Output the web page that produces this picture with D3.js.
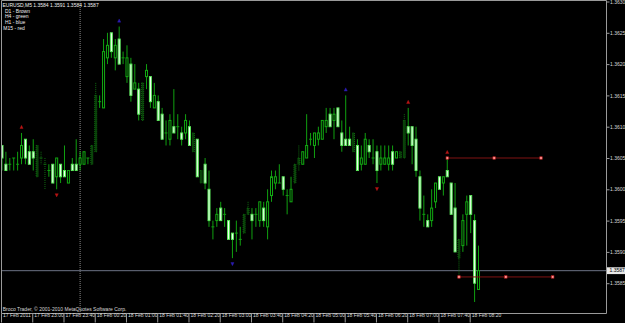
<!DOCTYPE html>
<html>
<head>
<meta charset="utf-8">
<script src="https://cdn.jsdelivr.net/npm/d3@7"></script>
<style>
html, body { margin: 0; padding: 0; background: #000; overflow: hidden; }
svg { display: block; }
</style>
</head>
<body>
<div id="chart"></div>
<script>
var symbol = "EURUSD,M5";
var startTime = "2011-02-17 22:20";

// M5 bars
var opens = [1.3607,1.3604,1.3604,1.3605,1.3604,1.3605,1.3608,1.3606,1.3606,1.3607,
	1.3605,1.3604,1.3603,1.3604,1.3602,1.3604,1.3603,1.3601,1.3604,1.3604,
	1.3604,1.3604,1.3605,1.3604,1.3606,1.3614,1.3613,1.3621,1.3625,1.3621,
	1.3624,1.3621,1.3618,1.3620,1.3616,1.3616,1.3617,1.3618,1.3618,1.3613,
	1.3614,1.3612,1.3609,1.3608,1.3610,1.3610,1.3609,1.3609,1.3610,1.3609,
	1.3608,1.3603,1.3604,1.3600,1.3594,1.3595,1.3597,1.3596,1.3595,1.3593,
	1.3593,1.3592,1.3593,1.3596,1.3596,1.3596,1.3595,1.3597,1.3594,1.3599,
	1.3601,1.3601,1.3602,1.3599,1.3598,1.3601,1.3604,1.3604,1.3605,1.3608,
	1.3607,1.3608,1.3608,1.3610,1.3612,1.3611,1.3613,1.3609,1.3608,1.3608,
	1.3609,1.3607,1.3604,1.3604,1.3607,1.3605,1.3606,1.3604,1.3604,1.3604,
	1.3606,1.3605,1.3605,1.3605,1.3610,1.3610,1.3608,1.3602,1.3596,1.3595,
	1.3595,1.3598,1.3602,1.3601,1.3603,1.3601,1.3597,1.3592,1.3591,1.3596,
	1.3599,1.3595,1.3584];
var highs = [1.3607,1.3606,1.3605,1.3605,1.3606,1.3609,1.3608,1.3607,1.3608,1.3607,
	1.3606,1.3605,1.3604,1.3604,1.3605,1.3604,1.3607,1.3603,1.3605,1.3608,
	1.3606,1.3606,1.3605,1.3607,1.3617,1.3615,1.3624,1.3625,1.3625,1.3624,
	1.3626,1.3622,1.3623,1.3621,1.3620,1.3617,1.3617,1.3620,1.3618,1.3617,
	1.3615,1.3613,1.3611,1.3612,1.3616,1.3612,1.3610,1.3612,1.3611,1.3609,
	1.3608,1.3603,1.3605,1.3603,1.3595,1.3597,1.3598,1.3597,1.3595,1.3593,
	1.3595,1.3594,1.3596,1.3598,1.3597,1.3597,1.3598,1.3598,1.3600,1.3603,
	1.3603,1.3604,1.3602,1.3600,1.3602,1.3604,1.3607,1.3606,1.3612,1.3609,
	1.3609,1.3610,1.3611,1.3613,1.3613,1.3613,1.3613,1.3611,1.3615,1.3610,
	1.3609,1.3608,1.3607,1.3609,1.3608,1.3608,1.3607,1.3607,1.3607,1.3607,
	1.3607,1.3606,1.3606,1.3612,1.3613,1.3610,1.3610,1.3603,1.3599,1.3596,
	1.3600,1.3601,1.3602,1.3602,1.3605,1.3601,1.3601,1.3592,1.3596,1.3599,
	1.3599,1.3596,1.3591];
var lows = [1.3603,1.3603,1.3603,1.3603,1.3603,1.3604,1.3604,1.3604,1.3603,1.3602,
	1.3604,1.3600,1.3602,1.3601,1.3600,1.3601,1.3602,1.3601,1.3603,1.3603,
	1.3603,1.3604,1.3604,1.3604,1.3606,1.3613,1.3613,1.3620,1.3621,1.3619,
	1.3620,1.3620,1.3617,1.3614,1.3616,1.3611,1.3611,1.3616,1.3613,1.3613,
	1.3611,1.3608,1.3607,1.3607,1.3609,1.3608,1.3607,1.3608,1.3607,1.3606,
	1.3602,1.3601,1.3600,1.3594,1.3592,1.3594,1.3595,1.3594,1.3592,1.3589,
	1.3590,1.3591,1.3593,1.3596,1.3592,1.3594,1.3594,1.3594,1.3592,1.3598,
	1.3600,1.3601,1.3599,1.3596,1.3598,1.3601,1.3603,1.3604,1.3605,1.3607,
	1.3605,1.3607,1.3608,1.3609,1.3610,1.3608,1.3610,1.3606,1.3607,1.3607,
	1.3606,1.3603,1.3603,1.3604,1.3605,1.3604,1.3601,1.3603,1.3604,1.3603,
	1.3603,1.3605,1.3605,1.3605,1.3607,1.3604,1.3602,1.3595,1.3594,1.3594,
	1.3594,1.3597,1.3600,1.3599,1.3602,1.3596,1.3590,1.3586,1.3590,1.3591,
	1.3593,1.3582,1.3584];
var closes = [1.3605,1.3603,1.3604,1.3605,1.3604,1.3607,1.3605,1.3604,1.3605,1.3602,
	1.3605,1.3604,1.3603,1.3601,1.3605,1.3602,1.3602,1.3603,1.3603,1.3603,
	1.3605,1.3606,1.3605,1.3607,1.3615,1.3614,1.3622,1.3623,1.3622,1.3623,
	1.3620,1.3621,1.3621,1.3615,1.3617,1.3612,1.3611,1.3619,1.3614,1.3615,
	1.3611,1.3608,1.3609,1.3611,1.3609,1.3610,1.3608,1.3611,1.3607,1.3606,
	1.3602,1.3601,1.3601,1.3595,1.3594,1.3596,1.3595,1.3596,1.3592,1.3592,
	1.3593,1.3592,1.3596,1.3597,1.3595,1.3596,1.3598,1.3595,1.3598,1.3602,
	1.3602,1.3601,1.3600,1.3599,1.3600,1.3604,1.3605,1.3606,1.3607,1.3608,
	1.3609,1.3609,1.3611,1.3611,1.3610,1.3612,1.3610,1.3607,1.3607,1.3607,
	1.3606,1.3603,1.3605,1.3608,1.3606,1.3605,1.3603,1.3605,1.3605,1.3605,
	1.3604,1.3606,1.3606,1.3611,1.3609,1.3607,1.3603,1.3597,1.3596,1.3594,
	1.3597,1.3601,1.3600,1.3602,1.3602,1.3596,1.3590,1.3589,1.3595,1.3598,
	1.3596,1.3585,1.3587];
// bars painted dark (dotted)
var dimBars = [9, 10, 11, 23, 24, 36, 49, 51, 62, 63, 75, 76, 90, 102, 103, 117];
// fractal arrows (bar index)
var m15Up = [5, 104, 114];
var m15Down = [14, 96];
var h1Up = [30, 88];
var h1Down = [59];
// horizontal levels
var levelBars = [114, 117];
var levelPrices = [1.3605, 1.3586];
var priceTicks = [1.3585, 1.3590, 1.3595, 1.3600, 1.3605, 1.3610, 1.3615, 1.3620, 1.3625, 1.3630];
var legendLines = ["D1 - Brown", "H4 - green", "H1 - blue", "M15 - red"];
var bid = 1.3587;
var copyright = "Broco Trader, \u00a9 2001-2010 MetaQuotes Software Corp.";

var CHART = (function() {
var W = 625, H = 323;
var right = 606.5, bottom = 313.5;
var font = "Liberation Sans, Arial, sans-serif";

function draw(el) {
	var svg = d3.select(el).append("svg").attr("width", W).attr("height", H);
	svg.append("rect").attr("width", W).attr("height", H).attr("fill", "#000");

	var n = opens.length;
	var x = d3.scaleLinear().domain([0, 120]).range([2, 470.7]);
	var y = d3.scaleLinear().domain([1.3585, 1.3630]).range([283.2, 1.5]);

	svg.append("clipPath").attr("id", "plot").append("rect")
		.attr("x", 1.5).attr("y", 1.5).attr("width", right - 1.5).attr("height", bottom - 1.5);
	var layer = svg.append("g").attr("clip-path", "url(#plot)");

	// day separator 18 Feb 00:00
	layer.append("line").attr("x1", x(20)).attr("x2", x(20)).attr("y1", 1).attr("y2", bottom)
		.attr("stroke", "#b0b0b0").attr("stroke-width", 0.8).attr("stroke-dasharray", "1,1");

	// bid line
	layer.append("line").attr("x1", 1).attr("x2", right).attr("y1", y(bid)).attr("y2", y(bid))
		.attr("stroke", "#6c7284").attr("stroke-width", 1);

	for (var i = 0; i < n; i++) {
		createCandle(layer, x(i), y(opens[i]), y(highs[i]), y(lows[i]), y(closes[i]), dimBars.indexOf(i) >= 0);
	}

	// levels
	for (var k = 0; k < levelBars.length; k++) {
		createLevel(layer, x(levelBars[k]), x(levelBars[k] + 12), x(levelBars[k] + 24), y(levelPrices[k]));
	}

	// fractals
	$each(m15Up, function(b) { createArrow(layer, x(b), y(highs[b]) - 6, true, "#b81414"); });
	$each(m15Down, function(b) { createArrow(layer, x(b), y(lows[b]) + 6, false, "#b81414"); });
	$each(h1Up, function(b) { createArrow(layer, x(b), y(highs[b]) - 6, true, "#2c1cb0"); });
	$each(h1Down, function(b) { createArrow(layer, x(b), y(lows[b]) + 6, false, "#2c1cb0"); });

	// frame
	svg.append("path").attr("d", "M1.5,0.5 L" + right + ",0.5 L" + right + "," + bottom + " L1.5," + bottom + " Z")
		.attr("fill", "none").attr("stroke", "#9a9a9a").attr("stroke-width", 1);

	// price axis
	var yAxis = d3.axisRight(y).tickValues(priceTicks).tickSize(3).tickPadding(0).tickFormat(d3.format(".4f"));
	var gy = svg.append("g").attr("transform", "translate(" + right + ",0)").call(yAxis);
	gy.select(".domain").remove();
	gy.selectAll("line").attr("stroke", "#9a9a9a");
	gy.selectAll("text").attr("fill", "#d8d8d8").attr("font-family", font).attr("font-size", 5).attr("x", 3.5);

	// bid box
	svg.append("rect").attr("x", 607).attr("y", y(bid) - 3.4).attr("width", 18).attr("height", 6.8).attr("fill", "#e8e8e8");
	svg.append("text").attr("x", 609.5).attr("y", y(bid) + 1.8).attr("font-family", font).attr("font-size", 5)
		.attr("fill", "#000").text(d3.format(".4f")(bid));

	// time axis, one label every 8 bars
	var t0 = d3.timeParse("%Y-%m-%d %H:%M")(startTime);
	var fmtDay = d3.timeFormat("%d %b %Y");
	var fmtTime = d3.timeFormat("%d %b %H:%M");
	var xAxis = d3.axisBottom(x).tickValues(d3.range(0, n, 8)).tickSize(9).tickPadding(0)
		.tickFormat(function(i) {
			var t = d3.timeMinute.offset(t0, 5 * i);
			return i == 0 ? fmtDay(t) : fmtTime(t);
		});
	var gx = svg.append("g").attr("transform", "translate(-1," + bottom + ")").call(xAxis);
	gx.select(".domain").remove();
	gx.selectAll("line").attr("stroke", "#9a9a9a");
	gx.selectAll("text").attr("fill", "#d8d8d8").attr("font-family", font).attr("font-size", 5)
		.attr("text-anchor", "start").attr("x", 1.6).attr("y", 3).attr("dy", 0);

	// header + legend
	var last = n - 1;
	var head = symbol + "  " + [opens[last], highs[last], lows[last], closes[last]].map(d3.format(".4f")).join(" ");
	svg.append("text").attr("x", 2.5).attr("y", 6.8).attr("font-family", font).attr("font-size", 5)
		.attr("fill", "#f0f0f0").text(head);
	$each(legendLines, function(s, j) {
		svg.append("text").attr("x", j == 3 ? 3.3 : 5).attr("y", 12.5 + 5.75 * j).attr("font-family", font)
			.attr("font-size", 5).attr("fill", "#f0f0f0").text(s);
	});
	svg.append("text").attr("x", 2.7).attr("y", 311.3).attr("font-family", font).attr("font-size", 5)
		.attr("fill", "#d8d8d8").text(copyright);
}

function $each(arr, fn) {
	for (var i = 0; i < arr.length; i++) fn(arr[i], i);
}

function createCandle(layer, cx, yo, yh, yl, yc, dim) {
	var g = layer.append("g");
	var wick = dim ? "#0f6a0f" : "#10a010";
	var top = Math.min(yo, yc), h = Math.abs(yc - yo);
	var line = g.append("line").attr("x1", cx).attr("x2", cx).attr("y1", yh).attr("y2", yl)
		.attr("stroke", wick).attr("stroke-width", 1);
	if (dim) line.attr("stroke-dasharray", "1,1");
	if (h < 0.5) {
		// doji
		g.append("line").attr("x1", cx - 1.5).attr("x2", cx + 1.5).attr("y1", yo).attr("y2", yo)
			.attr("stroke", wick).attr("stroke-width", 1);
		return;
	}
	var body = g.append("rect").attr("x", cx - 1).attr("y", top).attr("width", 2).attr("height", h).attr("stroke-width", 1);
	if (dim) {
		body.attr("fill", "#0a3c0a").attr("stroke", "#0f6a0f").attr("stroke-dasharray", "1,1");
	} else if (yc < yo) {
		body.attr("fill", "#000").attr("stroke", "#12aa12");
	} else {
		body.attr("fill", "#f6fff6").attr("stroke", "#5ae85a");
	}
}

function createLevel(layer, x1, x2, x3, ly) {
	var g = layer.append("g");
	g.append("line").attr("x1", x1).attr("x2", x3).attr("y1", ly).attr("y2", ly)
		.attr("stroke", "#801212").attr("stroke-width", 1);
	$each([x1, x2, x3], function(px) {
		g.append("rect").attr("x", px - 1.2).attr("y", ly - 1.2).attr("width", 2.4).attr("height", 2.4)
			.attr("fill", "#ff9a9a").attr("stroke", "#d02020").attr("stroke-width", 0.6);
	});
}

function createArrow(layer, ax, ay, up, color) {
	var s = 1.6;
	var d = up
		? "M" + ax + "," + (ay - s) + " L" + (ax + s) + "," + (ay + s) + " L" + (ax - s) + "," + (ay + s) + " Z"
		: "M" + ax + "," + (ay + s) + " L" + (ax + s) + "," + (ay - s) + " L" + (ax - s) + "," + (ay - s) + " Z";
	layer.append("path").attr("d", d).attr("fill", color).attr("stroke", color).attr("stroke-width", 0.4);
}

return {
	draw: draw
};
})();

CHART.draw("#chart");
</script>
</body>
</html>
